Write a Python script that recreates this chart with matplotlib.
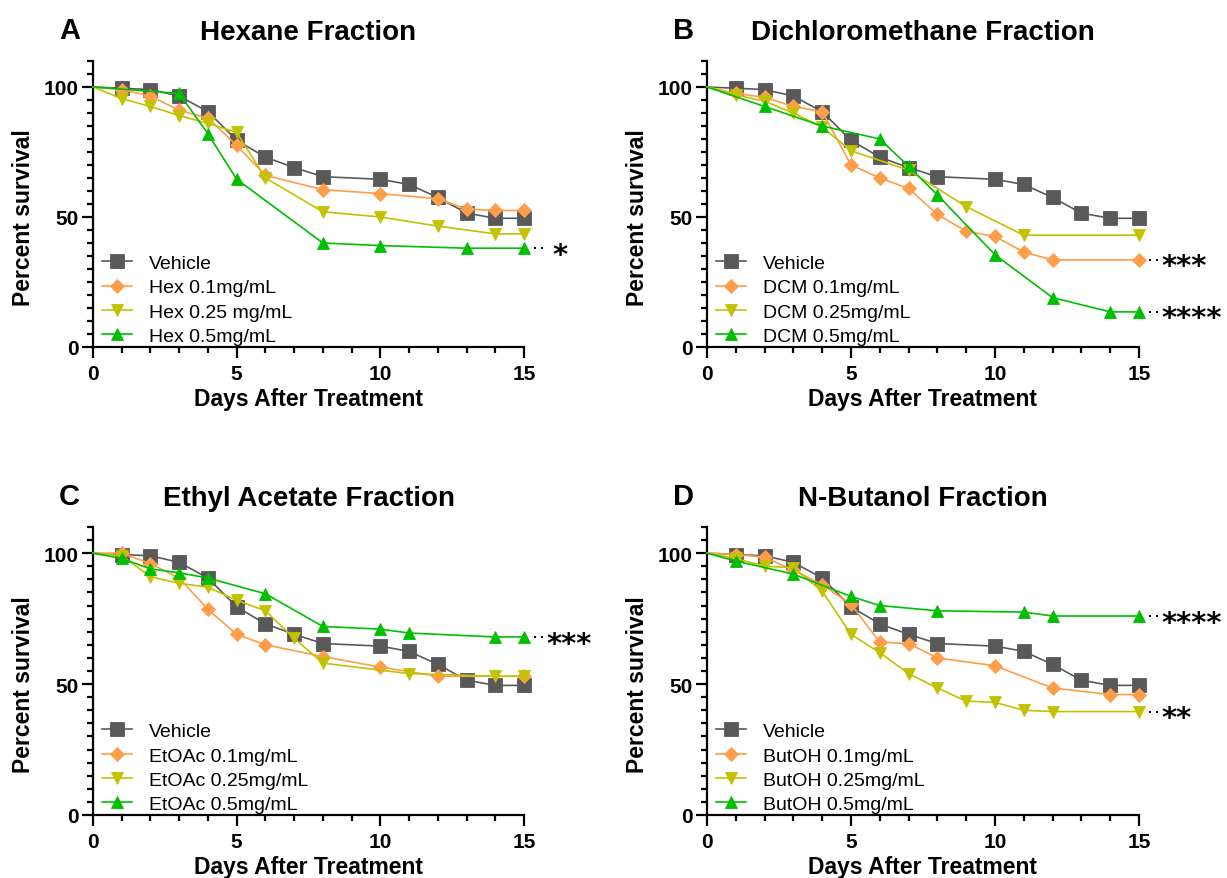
import matplotlib
matplotlib.use("Agg")
import matplotlib.pyplot as plt
from matplotlib.ticker import MultipleLocator
from matplotlib.transforms import offset_copy

plt.rcParams["font.family"] = ["Liberation Sans", "DejaVu Sans"]

# vehicle control is shared by all four panels
veh_days = [0, 1, 2, 3, 4, 5, 6, 7, 8, 10, 11, 12, 13, 14, 15]
veh_surv = [100, 99.5, 99, 96.5, 90.5, 79.5, 73, 69, 65.5, 64.5, 62.5, 57.5, 51.5, 49.5, 49.5]

# Hexane
hex01_days = [0, 1, 2, 3, 4, 5, 6, 8, 10, 12, 13, 14, 15]
hex01_surv = [100, 99, 96.5, 91, 88, 77.5, 66, 60.5, 59, 57, 53, 52.5, 52.5]
hex025_days = [0, 1, 2, 3, 4, 5, 6, 8, 10, 12, 14, 15]
hex025_surv = [100, 95.5, 92.5, 89, 86, 82.5, 65, 52, 50, 46.5, 43.5, 43.5]
hex05_days = [0, 3, 4, 5, 8, 10, 13, 15]
hex05_surv = [100, 97.5, 82, 64.5, 40, 39, 38, 38]

# Dichloromethane
dcm01_days = [0, 1, 2, 3, 4, 5, 6, 7, 8, 9, 10, 11, 12, 15]
dcm01_surv = [100, 97.5, 96, 92.5, 90.5, 70, 65, 61, 51, 44.5, 42.5, 36.5, 33.5, 33.5]
dcm025_days = [0, 1, 2, 3, 4, 5, 7, 9, 11, 15]
dcm025_surv = [100, 97, 94.5, 90, 84.5, 75.5, 68, 54, 43, 43]
dcm05_days = [0, 2, 4, 6, 7, 8, 10, 12, 14, 15]
dcm05_surv = [100, 92.5, 85, 80, 69.5, 58.5, 35.5, 19, 13.5, 13.5]

# Ethyl acetate
eto01_days = [0, 1, 2, 3, 4, 5, 6, 8, 10, 12, 15]
eto01_surv = [100, 100, 96, 90.5, 78.5, 69, 65, 60.5, 56.5, 53, 53]
eto025_days = [0, 1, 2, 3, 4, 5, 6, 7, 8, 11, 14, 15]
eto025_surv = [100, 99, 91, 88.5, 87, 82, 78, 67.5, 58, 54, 53, 53]
eto05_days = [0, 1, 2, 3, 4, 6, 8, 10, 11, 14, 15]
eto05_surv = [100, 98, 94, 92.5, 90.5, 84.5, 72, 71, 69.5, 68, 68]

# N-Butanol
but01_days = [0, 1, 2, 3, 4, 5, 6, 7, 8, 10, 12, 14, 15]
but01_surv = [100, 99.5, 98.5, 93.5, 88, 80.5, 66, 65.5, 60, 57, 48.5, 46, 46]
but025_days = [0, 1, 2, 3, 4, 5, 6, 7, 8, 9, 10, 11, 12, 15]
but025_surv = [100, 98, 95, 94.5, 85.5, 69, 62, 54, 48.5, 43.5, 43, 40, 39.5, 39.5]
but05_days = [0, 1, 3, 5, 6, 8, 11, 12, 15]
but05_surv = [100, 97, 92, 83.5, 80, 78, 77.5, 76, 76]

COLORS = ["#595959", "#FF9E4A", "#C2C200", "#00BF00"]
MARKERS = ["s", "D", "v", "^"]
MSIZES = [9.5, 7.5, 8.5, 8.5]

panels = [
    dict(letter="A", title="Hexane Fraction", rect=[0.0758, 0.6041, 0.3513, 0.3254],
         labels=["Vehicle", "Hex 0.1mg/mL", "Hex 0.25 mg/mL", "Hex 0.5mg/mL"],
         series=[(veh_days, veh_surv), (hex01_days, hex01_surv),
                 (hex025_days, hex025_surv), (hex05_days, hex05_surv)],
         stars=[(38, "*", 16.0)]),
    dict(letter="B", title="Dichloromethane Fraction", rect=[0.5762, 0.6041, 0.3520, 0.3254],
         labels=["Vehicle", "DCM 0.1mg/mL", "DCM 0.25mg/mL", "DCM 0.5mg/mL"],
         series=[(veh_days, veh_surv), (dcm01_days, dcm01_surv),
                 (dcm025_days, dcm025_surv), (dcm05_days, dcm05_surv)],
         stars=[(33.5, "***", 15.78), (13.5, "****", 15.78)]),
    dict(letter="C", title="Ethyl Acetate Fraction", rect=[0.0758, 0.0717, 0.3513, 0.3276],
         labels=["Vehicle", "EtOAc 0.1mg/mL", "EtOAc 0.25mg/mL", "EtOAc 0.5mg/mL"],
         series=[(veh_days, veh_surv), (eto01_days, eto01_surv),
                 (eto025_days, eto025_surv), (eto05_days, eto05_surv)],
         stars=[(68, "***", 15.78)]),
    dict(letter="D", title="N-Butanol Fraction", rect=[0.5762, 0.0717, 0.3520, 0.3276],
         labels=["Vehicle", "ButOH 0.1mg/mL", "ButOH 0.25mg/mL", "ButOH 0.5mg/mL"],
         series=[(veh_days, veh_surv), (but01_days, but01_surv),
                 (but025_days, but025_surv), (but05_days, but05_surv)],
         stars=[(76, "****", 15.78), (39.5, "**", 15.78)]),
]

fig = plt.figure(figsize=(12.27, 8.79), dpi=100)

for p in panels:
    ax = fig.add_axes(p["rect"])
    for (d, s), c, m, ms, lab in zip(p["series"], COLORS, MARKERS, MSIZES, p["labels"]):
        # first point (day 0, 100%) has no marker
        ax.plot(d, s, color=c, lw=1.2, clip_on=False, label=lab,
                marker=m, ms=ms, markevery=list(range(1, len(d))),
                mec=c, mew=0.6, zorder=3)

    ax.set_xlim(0, 15)
    ax.set_ylim(0, 110)
    ax.spines["top"].set_visible(False)
    ax.spines["right"].set_visible(False)
    for sp in ("left", "bottom"):
        ax.spines[sp].set_linewidth(1.6)
    ax.xaxis.set_major_locator(MultipleLocator(5))
    ax.xaxis.set_minor_locator(MultipleLocator(1))
    ax.set_yticks([0, 50, 100])
    ax.yaxis.set_minor_locator(MultipleLocator(5))
    ax.tick_params(which="major", length=8, width=1.6, labelsize=15)
    ax.tick_params(axis="x", which="major", pad=4.5)
    ax.tick_params(axis="y", which="major", pad=2.5)
    ax.tick_params(which="minor", length=4.5, width=1.6)
    for t in ax.get_xticklabels() + ax.get_yticklabels():
        t.set_fontweight("bold")

    ax.set_xlabel("Days After Treatment", fontsize=16.5, fontweight="bold")
    ax.set_ylabel("Percent survival", fontsize=16.5, fontweight="bold")
    ax.xaxis.set_label_coords(0.5, -0.14)
    ax.yaxis.set_label_coords(-0.135, 50 / 110)

    ax.legend(loc="lower left", bbox_to_anchor=(0.003, -0.02), frameon=False,
              fontsize=14, handlelength=1.55, handletextpad=0.88,
              labelspacing=0.34, borderaxespad=0.0)

    # significance marks at the end of the curves
    star_tr = offset_copy(ax.transData, fig=fig, x=0, y=-10.5, units="points")
    for val, txt, xs in p["stars"]:
        ax.plot([15.38, 15.62], [val, val], ls="none", marker="s", ms=2,
                mew=0, color="black", clip_on=False)
        ax.text(xs, val, txt, transform=star_tr, fontsize=21, fontweight="bold",
                family="DejaVu Sans", ha="left", va="baseline", clip_on=False)

    x0, y0, w, h = p["rect"]
    fig.text(x0 + w / 2, y0 + h + 0.033, p["title"], ha="center", va="center",
             fontsize=20, fontweight="bold")
    fig.text(x0 - 0.019, y0 + h + 0.035, p["letter"], ha="center", va="center",
             fontsize=21, fontweight="bold")

fig.savefig("out.png", dpi=100)
